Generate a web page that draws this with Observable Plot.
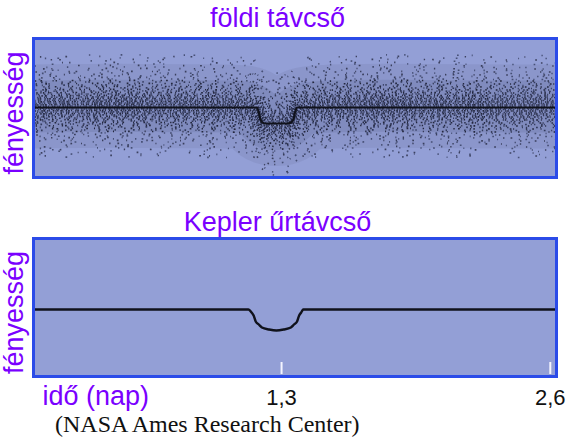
<!DOCTYPE html>
<html>
<head>
<meta charset="utf-8">
<script src="https://cdn.jsdelivr.net/npm/d3@7"></script>
<script src="https://cdn.jsdelivr.net/npm/@observablehq/plot@0.6"></script>
<style>
  html, body { margin: 0; padding: 0; background: #fff; }
  #wrap { position: relative; width: 567px; height: 439px; overflow: hidden; background: #fff; }
  .ttl { position: absolute; left: 0; width: 555px; text-align: center; font-family: "Liberation Sans", Arial, sans-serif; font-size: 27px; line-height: 27px; color: #7a00ff; white-space: nowrap; }
  .cap { position: absolute; left: 55px; font-family: "Liberation Serif", "Times New Roman", serif; font-size: 24px; line-height: 24px; color: #111; white-space: nowrap; }
  .plot { position: absolute; left: 0; }
</style>
</head>
<body>
<div id="wrap">
  <div class="ttl" style="top:5px">földi távcső</div>
  <div class="plot" id="p1" style="top:36px"></div>
  <div class="ttl" style="top:209px">Kepler űrtávcső</div>
  <div class="plot" id="p2" style="top:236px"></div>
  <div class="cap" style="top:412px">(NASA Ames Research Center)</div>
</div>
<script>
// ---- data ----
const purple = "#7a00ff";
const xDomain = [0.10, 2.63];          // time (days)
const xTicks = [1.3, 2.6];
const xTickLabels = ["1,3", "2,6"];
const yLabel = "fényesség";
const xLabel = "idő (nap)";

// ground-based telescope: model line
const groundX = [0.10, 1.180, 1.190, 1.198, 1.208, 1.220, 1.330, 1.345, 1.357, 1.365, 1.375, 2.63];
const groundY = [1.000, 1.000, 0.9975, 0.994, 0.9925, 0.992, 0.992, 0.9925, 0.994, 0.9975, 1.000, 1.000];

// ground-based telescope: centre of the cloud of scattered measurements
const noiseX      = [0.10, 0.50, 1.00, 1.15, 1.19, 1.22, 1.33, 1.36, 1.40, 1.80, 2.20, 2.63];
const noiseCenter = [1.0005, 1.001, 1.0005, 1.0005, 0.9965, 0.9915, 0.9915, 0.9965, 1.0005, 1.001, 1.0005, 1.0005];

// Kepler space telescope light curve
const keplerX = [0.10, 1.140, 1.155, 1.165, 1.175, 1.190, 1.205, 1.240, 1.275, 1.310, 1.345, 1.360, 1.375, 1.385, 1.395, 1.405, 2.63];
const keplerY = [1.000, 1.000, 0.9985, 0.997, 0.994, 0.9925, 0.991, 0.990, 0.9895, 0.990, 0.991, 0.9925, 0.994, 0.997, 0.9985, 1.000, 1.000];

const groundDomain = [0.965, 1.0345];
const keplerDomain = [0.9665, 1.0355];

// ---- tables ----
const ground = groundX.map((x, i) => ({x, y: groundY[i]}));
const kepler = keplerX.map((x, i) => ({x, y: keplerY[i]}));
const noise = noiseX.map((x, i) => ({x, y: noiseCenter[i]}));

const panelFill = "#939fd6";
const borderBlue = "#2b4be8";
const font = "Liberation Sans, Arial, sans-serif";

const yLabelMark = Plot.text([yLabel], {
  text: d => d, frameAnchor: "left", textAnchor: "middle", rotate: -90, lineAnchor: "bottom",
  dx: -11, dy: 5, fontSize: 27, fill: purple, fontFamily: font
});

// grain of the measurement cloud: dashed rows that follow the cloud centre,
// sparser away from the centre (pure stroke styling, no extra data)
const gapSeq = [2, 5, 1, 7, 3, 4, 9, 2, 6, 1.5, 8, 3.5];
const rowStep = 1.5;
const grainRows = [];
for (let k = -34; k <= 34; k++) {
  const f = 0.3 + Math.pow(Math.abs(k) / 13, 2.2);
  const r = ((k * 5) % 12 + 12) % 12;
  const gaps = gapSeq.slice(r).concat(gapSeq.slice(0, r));
  const dash = gaps.map((g, j) => `${(1.0 + (j % 3) * 0.35).toFixed(2)} ${(g * f).toFixed(2)}`).join(" ");
  grainRows.push(Plot.line(noise, {
    x: "x", y: "y", dy: k * rowStep, curve: "basis", strokeLinecap: "butt",
    stroke: (k & 1) ? "#171a2d" : "#283050", strokeWidth: 1.6,
    strokeOpacity: Math.abs(k) < 18 ? 0.88 : 0.7,
    strokeDasharray: dash, strokeDashoffset: ((k * 37) % 53 + 53) % 53
  }));
}

// top: ground-based
const p1 = Plot.plot({
  width: 567, height: 143,
  marginTop: 2, marginBottom: 2, marginLeft: 33, marginRight: 11,
  style: {background: "transparent", fontFamily: font, overflow: "visible"},
  x: {domain: xDomain, axis: null},
  y: {domain: groundDomain, axis: null},
  marks: [
    Plot.frame({fill: panelFill}),
    // soft haze around the cloud centre
    Plot.line(noise, {x: "x", y: "y", curve: "basis", strokeLinecap: "butt", stroke: "#2a2f4c", strokeOpacity: 0.07, strokeWidth: 84}),
    Plot.line(noise, {x: "x", y: "y", curve: "basis", strokeLinecap: "butt", stroke: "#2a2f4c", strokeOpacity: 0.10, strokeWidth: 52}),
    ...grainRows,
    Plot.line(ground, {x: "x", y: "y", stroke: "#10121c", strokeWidth: 2.2, curve: "monotone-x", strokeLinecap: "butt"}),
    Plot.frame({stroke: borderBlue, strokeWidth: 3}),
    yLabelMark
  ]
});

// bottom: Kepler
const p2 = Plot.plot({
  width: 567, height: 176,
  marginTop: 2, marginBottom: 36, marginLeft: 33, marginRight: 11,
  style: {background: "transparent", fontFamily: font, overflow: "visible"},
  x: {domain: xDomain, axis: null},
  y: {domain: keplerDomain, axis: null},
  marks: [
    Plot.frame({fill: panelFill}),
    Plot.ruleX(xTicks, {stroke: "#f4f4ff", strokeWidth: 2, insetTop: 124, insetBottom: 2}),
    Plot.line(kepler, {x: "x", y: "y", stroke: "#10121c", strokeWidth: 2.4, curve: "monotone-x", strokeLinecap: "butt"}),
    Plot.frame({stroke: borderBlue, strokeWidth: 3}),
    yLabelMark,
    Plot.text(xTicks, {x: d => d, text: (d, i) => xTickLabels[i], frameAnchor: "bottom", textAnchor: "middle", lineAnchor: "bottom",
      dy: 28, fontSize: 22, fill: "#111", fontFamily: font}),
    Plot.text([xLabel], {text: d => d, frameAnchor: "bottom-left", textAnchor: "start", lineAnchor: "bottom",
      dx: 9, dy: 28, fontSize: 27, fill: purple, fontFamily: font})
  ]
});

document.getElementById("p1").append(p1);
document.getElementById("p2").append(p2);
</script>
</body>
</html>
